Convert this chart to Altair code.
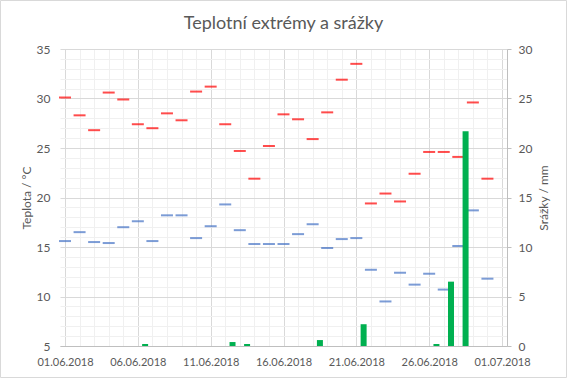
import altair as alt
import pandas as pd

# ---- data ----
dates = [f"2018-06-{d:02d}" for d in range(1, 31)]
tmax = [30.1, 28.3, 26.8, 30.6, 29.9, 27.4, 27.0, 28.5, 27.8, 30.7,
        31.2, 27.4, 24.7, 21.9, 25.2, 28.4, 27.9, 25.9, 28.6, 31.9,
        33.5, 19.4, 20.4, 19.6, 22.4, 24.6, 24.6, 24.1, 29.6, 21.9]
tmin = [15.6, 16.5, 15.5, 15.4, 17.0, 17.6, 15.6, 18.2, 18.2, 15.9,
        17.1, 19.3, 16.7, 15.3, 15.3, 15.3, 16.3, 17.3, 14.9, 15.8,
        15.9, 12.7, 9.5, 12.4, 11.2, 12.3, 10.7, 15.1, 18.7, 11.8]
precip = [0, 0, 0, 0, 0, 0.2, 0, 0, 0, 0,
          0, 0.4, 0.2, 0, 0, 0, 0, 0.6, 0, 0,
          2.2, 0, 0, 0, 0, 0.2, 6.5, 21.7, 0, 0]

x_tick_dates = [f"2018-06-{d:02d}" for d in range(1, 31)] + ["2018-07-01"]
temp_ticks = list(range(5, 36))
rain_ticks = [0, 5, 10, 15, 20, 25, 30]

df = pd.DataFrame({"date": dates, "tmax": tmax, "tmin": tmin, "precip": precip})

FONT = "Lato"
LBL = "#595959"

def dt(s):
    return alt.DateTime(year=int(s[:4]), month=int(s[5:7]), date=int(s[8:]), utc=True)

MAJOR = "round((datum.value - utc(2018,5,1)) / 86400000) % 5 === 0"
x_axis = alt.Axis(
    values=[dt(s) for s in x_tick_dates],
    labelExpr=f"({MAJOR}) ? utcFormat(datum.value, '%d.%m.%Y') : ''",
    grid=True,
    gridColor={"condition": {"test": MAJOR, "value": "#d9d9d9"}, "value": "#f0f0f0"},
    ticks=False, domain=True, domainColor="#bfbfbf",
    labelColor=LBL, labelFont=FONT, labelFontSize=11, labelPadding=10,
    labelFlush=False, labelOverlap=False, title=None,
)
x_scale = alt.Scale(type="utc", domain=[dt(x_tick_dates[0]), dt(x_tick_dates[-1])])

y_left = alt.Axis(
    values=temp_ticks,
    labelExpr="datum.value % 5 === 0 ? datum.label : ''",
    grid=True,
    gridColor={"condition": {"test": "datum.value % 5 === 0", "value": "#d9d9d9"}, "value": "#f0f0f0"},
    ticks=False, domain=False,
    labelColor=LBL, labelFont=FONT, labelFontSize=12, labelPadding=10,
    title="Teplota / °C", titleColor=LBL, titleFont=FONT, titleFontSize=12,
    titleFontWeight="normal", titlePadding=3, labelOverlap=False,
)
y_scale = alt.Scale(domain=[5, 35], nice=False)

tmax_layer = alt.Chart(df).mark_tick(orient="horizontal", color="#FF0000", thickness=2, size=12).encode(
    x=alt.X("date:T", scale=x_scale, axis=x_axis), y=alt.Y("tmax:Q", scale=y_scale, axis=y_left))
tmin_layer = alt.Chart(df).mark_tick(orient="horizontal", color="#4472C4", thickness=2, size=12).encode(
    x=alt.X("date:T", scale=x_scale, axis=x_axis), y=alt.Y("tmin:Q", scale=y_scale, axis=y_left))

border = alt.Chart(df).transform_filter("datum.tmax === 30.1").mark_rect(
    fill=None, stroke="#d9d9d9", strokeWidth=1, clip=False
).encode(x=alt.value(-59.5), x2=alt.value(506.5), y=alt.value(-48.5), y2=alt.value(328.5))

temps = alt.layer(border, tmin_layer, tmax_layer)

y_right = alt.Axis(
    values=rain_ticks, orient="right", grid=False,
    ticks=True, tickSize=4, tickColor="#bfbfbf", domain=True, domainColor="#bfbfbf",
    labelColor=LBL, labelFont=FONT, labelFontSize=12, labelPadding=7,
    title="Srážky / mm", titleColor=LBL, titleFont=FONT, titleFontSize=12,
    titleFontWeight="normal", titlePadding=7, titleAngle=270, titleBaseline="top",
)
rain_layer = alt.Chart(df).transform_filter("datum.precip > 0").transform_calculate(
    t="toDate(datum.date) + 43200000"
).mark_bar(size=6, color="#00B050").encode(
    x=alt.X("t:T", scale=x_scale, axis=x_axis),
    y=alt.Y("precip:Q", scale=alt.Scale(domain=[0, 30], nice=False), axis=y_right),
)

chart = alt.layer(temps, rain_layer).resolve_scale(y="independent").properties(
    width=447, height=297,
    padding={"left": 60, "top": 49, "right": 60, "bottom": 32},
    autosize=alt.AutoSizeParams(type="none"),
    title=alt.Title("Teplotní extrémy a srážky", font=FONT, fontSize=18, fontWeight="normal",
                    color=LBL, anchor="middle", frame="group", offset=-33),
).configure_view(stroke=None)

chart.save("out.html", embed_options={"renderer": "svg", "actions": False})
